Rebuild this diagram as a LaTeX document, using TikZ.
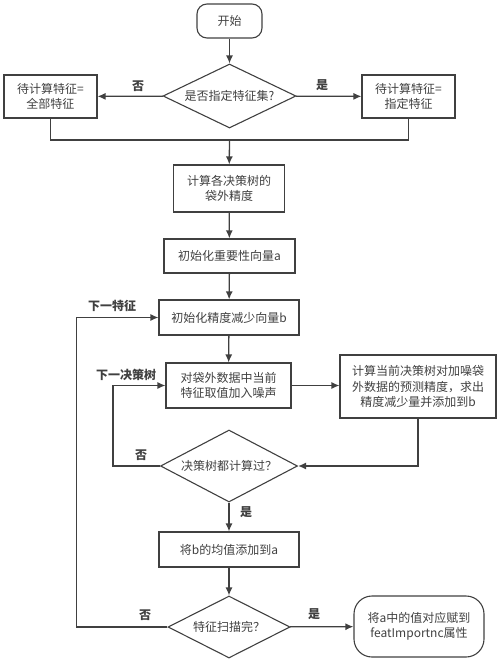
\documentclass[tikz,border=0pt]{standalone}
\usepackage{fontspec}
\setmainfont{Noto Sans CJK SC}
\usetikzlibrary{shapes.geometric,arrows.meta}
\begin{document}
\begin{tikzpicture}[x=1pt,y=-1pt,>={Latex[length=8pt,width=7pt]},
  line width=1.3pt,draw=black!75,
  every node/.style={font=\fontsize{12}{15.5}\selectfont,text=black!75},
  box/.style={draw,line width=1.1pt,rectangle,inner sep=0pt,align=center},
  term/.style={box,rounded corners=10pt},
  ask/.style={draw,line width=1.1pt,diamond,inner sep=0pt},
  tag/.style={font=\fontsize{12}{14}\bfseries\selectfont}]
\useasboundingbox (0,0) rectangle (500,662);

\node[term,minimum width=65pt,minimum height=34pt] (start) at (229.5,21) {开始};
\node[ask,minimum width=133pt,minimum height=64pt] (which) at (229.5,96) {\makebox[0pt]{是否指定特征集?}};
\node[box,minimum width=93pt,minimum height=43pt] (allf) at (50.5,96.5) {待计算特征=\\全部特征};
\node[box,minimum width=93pt,minimum height=43pt] (setf) at (408.5,96.5) {待计算特征=\\指定特征};
\coordinate (merge) at (229.5,140);
\node[box,minimum width=111pt,minimum height=47pt] (oob) at (229,188.5) {计算各决策树的\\袋外精度};
\node[box,minimum width=131pt,minimum height=34pt] (inita) at (229.5,256) {初始化重要性向量a};
\node[box,minimum width=140pt,minimum height=35pt] (initb) at (229,317.5) {初始化精度减少向量b};
\node[box,minimum width=125pt,minimum height=45pt] (noise) at (228.5,385.5) {对袋外数据中当前\\特征取值加入噪声};
\node[box,minimum width=156pt,minimum height=63pt] (calc) at (418,386.5) {计算当前决策树对加噪袋\\外数据的预测精度，求出\\精度减少量并添加到b};
\node[ask,minimum width=137pt,minimum height=72pt] (done) at (229,466) {\makebox[0pt]{决策树都计算过？}};
\node[box,minimum width=140pt,minimum height=35pt] (mean) at (229,549.5) {将b的均值添加到a};
\node[ask,minimum width=122pt,minimum height=62pt] (scan) at (229,627) {\makebox[0pt]{特征扫描完？}};
\node[term,rounded corners=18pt,minimum width=130pt,minimum height=61pt] (out) at (419,626.5) {将a中的值对应赋到\\featImportnc属性};

\node[tag] (no1) at (138,86) {否};
\node[tag] (yes1) at (322,85) {是};
\node[tag] (nextf) at (112,306) {下一特征};
\node[tag] (nextt) at (126,375) {下一决策树};
\node[tag] (no2) at (141,455) {否};
\node[tag] (yes2) at (246,512) {是};
\node[tag] (no3) at (145,615) {否};
\node[tag] (yes3) at (314,614) {是};

\draw[->] (start) -- (which);
\draw[->] (which) -- (allf);
\draw[->] (which) -- (setf);
\draw (allf.south) |- (merge) -| (setf.south);
\draw[->] (merge) -- (oob);
\draw[->] (oob) -- (inita);
\draw[->] (inita) -- (initb);
\draw[->] (initb) -- (noise);
\draw[->] (noise.east) -- (noise.east -| calc.west);
\draw[->] (calc.south) |- (done.east);
\draw[->] (done.west) -- ++(-47,0) |- (noise.west);
\draw[->] (done) -- (mean);
\draw[->] (mean) -- (scan);
\draw[->] (scan.west) -- ++(-91,0) |- (initb.west);
\draw[->] (scan) -- (out);

\end{tikzpicture}
\end{document}
